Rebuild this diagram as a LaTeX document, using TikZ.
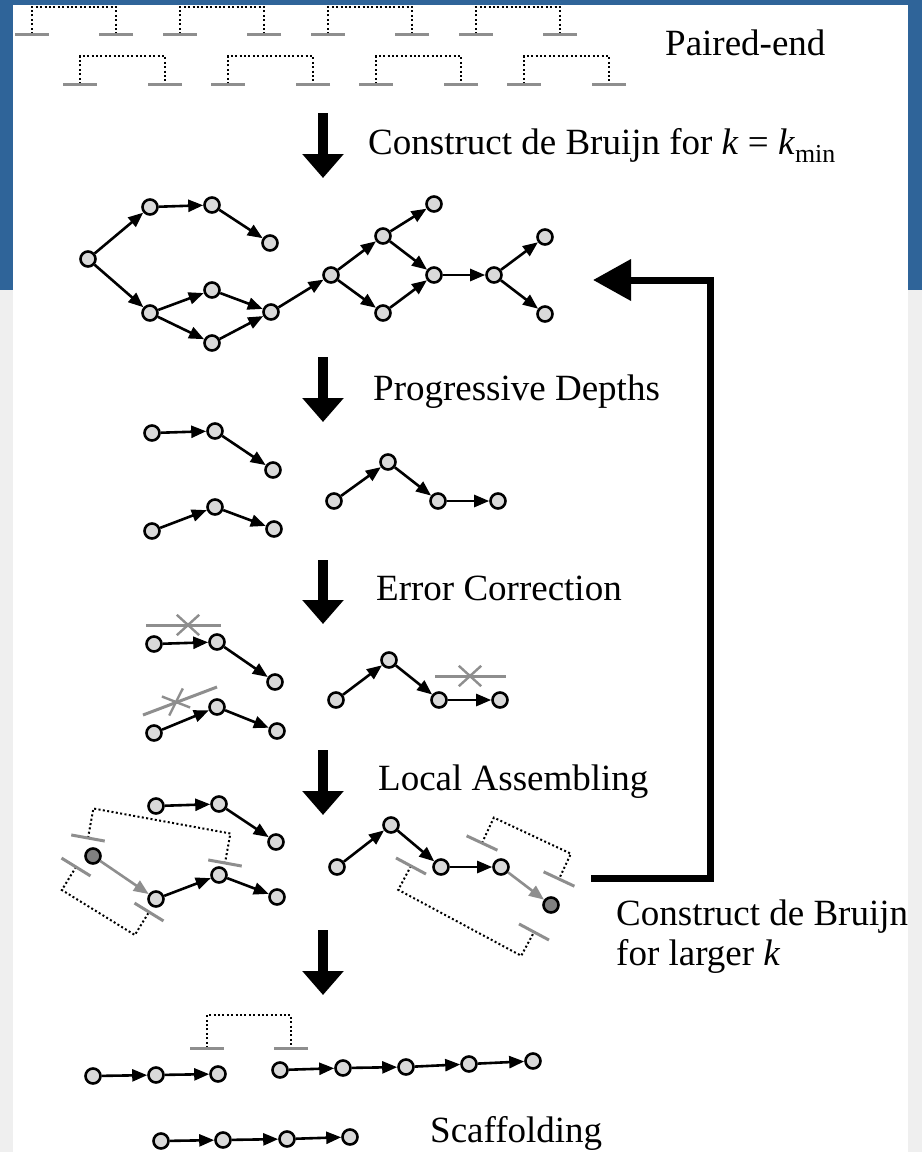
\documentclass[tikz,border=0pt]{standalone}
\usepackage{fontspec}
\setmainfont{Liberation Serif}
\usetikzlibrary{arrows.meta,calc,shapes.misc}
\definecolor{frame}{HTML}{2F6499}
\definecolor{side}{HTML}{EFEFEF}
\definecolor{read}{HTML}{8E8E8E}

\begin{document}
\begin{tikzpicture}[x=1pt,y=-1pt,>={Triangle[length=15pt,width=12pt]},
  kmer/.style={circle,draw,line width=2.6pt,fill=black!15,minimum size=15pt,inner sep=0pt},
  seed/.style={kmer,fill=black!50},
  edge/.style={->,line width=2.6pt},
  ext/.style={->,line width=2.6pt,draw=read,fill=read},
  bar/.style={line width=3pt,read},
  mate/.style={line width=2pt,dash pattern=on 2pt off 2.4pt},
  cut/.style={cross out,draw=read,line width=2.4pt,minimum width=20pt,minimum height=18pt,inner sep=0pt},
  stage/.style={-{Triangle[length=24pt,width=40pt]},line width=9.5pt},
  lab/.style={anchor=base west,inner sep=0pt,font=\fontsize{37}{40}\selectfont}]
\useasboundingbox (0,0) rectangle (922,1152);

%% page frame
\fill[frame] (0,0) rectangle (922,290);
\fill[side] (0,290) rectangle (922,1152);
\fill[white] (13,5) rectangle (908,1152);

\begin{scope}
\clip (13,5) rectangle (908,1152);

%% read pairs: bar centres, then height of the dotted link
\foreach \px/\py/\qx/\qy/\h in {32/34/116/34/27pt,180/34/264/34/27pt,328/34/412/34/27pt,476/34/560/34/27pt,
  80/84/165/84/28pt,228/84/313/84/28pt,376/84/461/84/28pt,524/84/609/84/28pt,
  88/838/225/863/30pt,76/867/149/912/-27pt,482/843/559/879/28pt,411/866/534/932/-27pt,
  207/1048/291/1048/33pt} {
  \coordinate (ra) at (\px,\py);
  \coordinate (rb) at (\qx,\qy);
  \draw[mate] (ra) -- ($(ra)!\h!90:(rb)$) -- ($(rb)!\h!-90:(ra)$) -- (rb);
  \draw[bar] ($(ra)!-17pt!(rb)$) -- ($(ra)!17pt!(rb)$);
  \draw[bar] ($(rb)!-17pt!(ra)$) -- ($(rb)!17pt!(ra)$);
}

%% labels
\node[lab] (pe) at (665,55) {Paired-end};
\node[lab] (build) at (368,154) {Construct de Bruijn for \textit{k} = \textit{k}\textsubscript{min}};
\node[lab] (depth) at (373,400) {Progressive Depths};
\node[lab] (error) at (376,600) {Error Correction};
\node[lab] (local) at (378,790) {Local Assembling};
\node[lab,align=left] (larger) at (616,965) {Construct de Bruijn\\for larger \textit{k}};
\node[lab] (scaf) at (430,1142) {Scaffolding};

%% stage arrows
\foreach \i/\ya/\yb in {1/113/178,2/357/422,3/560/624,4/750/815,5/930/995} {
  \coordinate (top\i) at (323,\ya);
  \coordinate (tip\i) at (323,\yb);
  \draw[stage] (top\i) -- (tip\i);
}

%% de Bruijn graph for k_min
\foreach \n/\x/\y in {a/88/259,b/150/207,c/212/205,d/270/243,e/150/313,f/212/290,g/212/343,h/271/312,
  i/331/275,j/383/236,k/434/204,l/383/313,m/434/275,n/494/275,o/545/237,p/545/314} {
  \node[kmer] (g\n) at (\x,\y) {};
}
\foreach \s/\t in {a/b,b/c,c/d,a/e,e/f,e/g,f/h,g/h,h/i,i/j,j/k,j/m,i/l,l/m,m/n,n/o,n/p} {
  \draw[edge] (g\s) -- (g\t);
}

%% progressive depths
\foreach \n/\x/\y in {1/152/433,2/215/431,3/273/470,4/152/531,5/215/507,6/274/529,
  7/334/501,8/388/462,9/438/501,10/498/501} {
  \node[kmer] (p\n) at (\x,\y) {};
}
\foreach \s/\t in {1/2,2/3,4/5,5/6,7/8,8/9,9/10} { \draw[edge] (p\s) -- (p\t); }

%% error correction
\foreach \n/\x/\y in {1/154/644,2/217/642,3/275/682,4/154/733,5/217/707,6/277/731,
  7/336/700,8/389/660,9/439/700,10/500/700} {
  \node[kmer] (e\n) at (\x,\y) {};
}
\foreach \s/\t in {1/2,2/3,4/5,5/6,7/8,8/9,9/10} { \draw[edge] (e\s) -- (e\t); }
\draw[bar] (146,625) -- (221,625);
\node[cut] (x1) at (188,625) {};
\draw[bar] (143,715) -- (217,687);
\node[cut,rotate=21] (x2) at (176,702) {};
\draw[bar] (435,676) -- (506,676);
\node[cut] (x3) at (470,676) {};

%% local assembling
\foreach \n/\x/\y in {1/156/806,2/219/804,3/276/842,4/156/899,5/219/875,6/277/897,
  7/337/867,8/391/825,9/441/867,10/501/867} {
  \node[kmer] (l\n) at (\x,\y) {};
}
\node[seed] (d1) at (93,856) {};
\node[seed] (d2) at (551,905) {};
\foreach \s/\t in {1/2,2/3,4/5,5/6,7/8,8/9,9/10} { \draw[edge] (l\s) -- (l\t); }
\draw[ext] (d1) -- (l4);
\draw[ext] (l10) -- (d2);

%% scaffolding
\foreach \n/\x/\y in {1/93/1076,2/156/1075,3/218/1074,4/280/1070,5/343/1068,6/406/1067,7/469/1064,8/533/1061} {
  \node[kmer] (s\n) at (\x,\y) {};
}
\foreach \n/\x/\y in {1/161/1141,2/223/1140,3/287/1139,4/350/1137} {
  \node[kmer] (t\n) at (\x,\y) {};
}
\foreach \s/\t in {1/2,2/3,4/5,5/6,6/7,7/8} { \draw[edge] (s\s) -- (s\t); }
\foreach \s/\t in {1/2,2/3,3/4} { \draw[edge] (t\s) -- (t\t); }

%% loop back for larger k
\coordinate (loopfrom) at (591,878);
\coordinate (loopto) at (593,280);
\draw[line width=7pt,-{Triangle[length=38pt,width=40pt]}] (loopfrom) -- ++(119,0) |- (loopto);
\end{scope}
\end{tikzpicture}
\end{document}
